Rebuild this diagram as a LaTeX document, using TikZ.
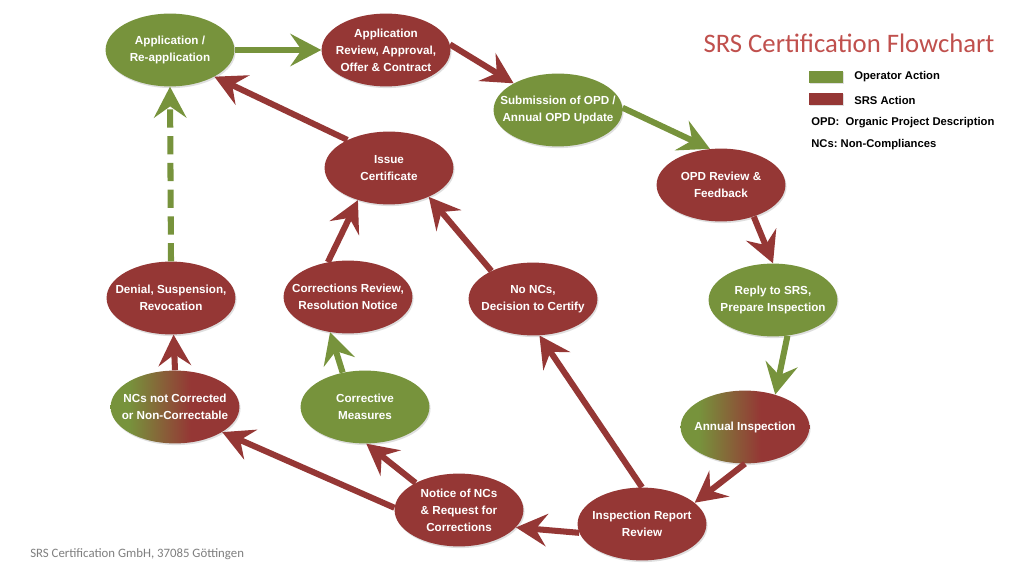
\documentclass[tikz,border=0pt]{standalone}
\usepackage{fontspec}
\setmainfont{Liberation Sans}
\newfontfamily\calibri{Carlito}
\usetikzlibrary{shapes.geometric,arrows.meta,shadows}
\definecolor{opgreen}{HTML}{77933C}
\definecolor{srsred}{HTML}{953735}
\definecolor{titlered}{HTML}{C0504D}
\definecolor{footgray}{HTML}{7F7F7F}
\pgfdeclarehorizontalshading{greentored}{100bp}{color(0bp)=(opgreen); color(32bp)=(opgreen); color(56bp)=(srsred); color(100bp)=(srsred)}

\begin{document}
\begin{tikzpicture}[x=0.025cm, y=-0.025cm,
  act/.style={ellipse, minimum width=3.22cm, minimum height=1.82cm, inner sep=0pt, drop shadow={shadow xshift=0.8pt, shadow yshift=-1.2pt, opacity=0.25}},
  opact/.style={act, fill=opgreen},
  srsact/.style={act, fill=srsred},
  mixact/.style={act, shading=greentored},
  txt/.style={text=white, font=\bfseries\fontsize{8.3}{12}\selectfont, align=center, inner sep=0pt},
  flow/.style={line width=4.3pt, -{Stealth[length=22pt, width=23pt, inset=8pt]}},
  opflow/.style={flow, opgreen},
  srsflow/.style={flow, srsred},
  legbox/.style={minimum width=0.85cm, minimum height=0.3cm, inner sep=0pt, drop shadow={shadow xshift=0.6pt, shadow yshift=-0.8pt, opacity=0.25}},
  legtxt/.style={font=\bfseries\fontsize{8}{10}\selectfont, anchor=west, inner sep=0pt}
]

\fill[white] (0,0) rectangle (1024,576);
\useasboundingbox (0,0) rectangle (1024,576);

\node[opact, label={[txt]center:{Application /\\Re-application}}] (app) at (170,50) {};
\node[srsact, label={[txt]center:{Application\\Review, Approval,\\Offer \& Contract}}] (review) at (386,50) {};
\node[opact, label={[txt]center:{Submission of OPD /\\Annual OPD Update}}] (subm) at (558,110) {};
\node[srsact, label={[txt]center:{OPD Review \&\\Feedback}}] (opdrev) at (721,185) {};
\node[opact, label={[txt]center:{Reply to SRS,\\Prepare Inspection}}] (reply) at (773,300) {};
\node[mixact, label={[txt]center:{Annual Inspection}}] (annual) at (745,427) {};
\node[srsact, label={[txt]center:{Inspection Report\\Review}}] (irr) at (642,524) {};
\node[srsact, label={[txt]center:{Notice of NCs\\\& Request for\\Corrections}}] (notice) at (459,510) {};
\node[srsact, label={[txt]center:{No NCs,\\Decision to Certify}}] (noncs) at (533,299) {};
\node[srsact, label={[txt]center:{Issue\\Certificate}}] (issue) at (389,168) {};
\node[srsact, label={[txt]center:{Corrections Review,\\Resolution Notice}}] (corrrev) at (348,297) {};
\node[opact, label={[txt]center:{Corrective\\Measures}}] (corrmeas) at (365,407) {};
\node[mixact, label={[txt]center:{NCs not Corrected\\or Non-Correctable}}] (notcorr) at (175,407) {};
\node[srsact, label={[txt]center:{Denial, Suspension,\\Revocation}}] (denial) at (171,298) {};

\draw[opflow] (app.east) -- (review.west);
\draw[srsflow] (review.5) -- (subm.149);
\draw[opflow] (subm.2) -- (opdrev.107);
\draw[srsflow] (opdrev.-44) -- (reply.90);
\draw[opflow] (reply.-68) -- (annual.47);
\draw[srsflow] (annual.-90) -- (irr.22);
\draw[srsflow] (irr.188) -- (notice.-17);
\draw[srsflow] (irr.90) -- (noncs.-80);
\draw[srsflow] (notice.178) -- (notcorr.-28);
\draw[srsflow] (notice.148) -- (corrmeas.-88);
\draw[opflow] (corrmeas.123) -- (corrrev.243);
\draw[srsflow] (corrrev.120) -- (issue.226);
\draw[srsflow] (noncs.146) -- (issue.-36);
\draw[srsflow] (issue.146) -- (app.-31);
\draw[srsflow] (notcorr.north) -- (denial.-86);
\draw[opflow, dash pattern=on 13pt off 6pt] (denial.north) -- (app.south);

\node[font=\calibri\fontsize{19}{22}\selectfont, text=titlered] (title) at (849,43) {SRS Certification Flowchart};

\node[legbox, fill=opgreen] (legop) at (826,77) {};
\node[legtxt] (legoptxt) at (854,77) {Operator Action};
\node[legbox, fill=srsred] (legsrs) at (826,99) {};
\node[legtxt] (legsrstxt) at (854,100) {SRS Action};
\node[legtxt] (opd) at (811,123) {OPD:\ \ Organic Project Description};
\node[legtxt] (ncs) at (811,145) {NCs:\ Non-Compliances};

\node[font=\calibri\fontsize{9.1}{11}\selectfont, text=footgray, anchor=west, inner sep=0pt] (footer) at (30,554) {SRS Certification GmbH, 37085 Göttingen};

\end{tikzpicture}
\end{document}
